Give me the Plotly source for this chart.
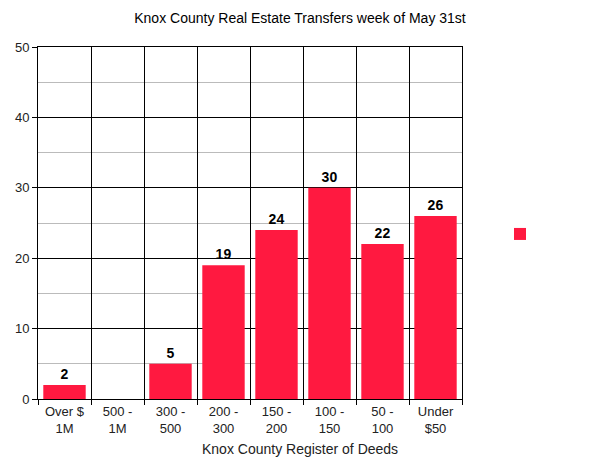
import plotly.graph_objects as go

categories = ["Over $<br>1M", "500 -<br>1M", "300 -<br>500", "200 -<br>300",
              "150 -<br>200", "100 -<br>150", "50 -<br>100", "Under<br>$50"]
values = [2, 0, 5, 19, 24, 30, 22, 26]
labels = [str(v) if v else "" for v in values]

title_text = "Knox County Real Estate Transfers week of May 31st"
xaxis_text = "Knox County Register of Deeds"

FONT = "Liberation Sans, Arial, sans-serif"
RED = "#ff1940"

# The page body has an 8px default margin, so the figure is drawn 8px in and down.
OFF = 8
W, H = 600 - OFF, 463 - OFF
PL, PR, PT, PB = 38 - OFF, 462 - OFF, 47 - OFF, 399 - OFF  # plot box in figure px
PW, PH = PR - PL, PB - PT

fig = go.Figure()
fig.add_trace(go.Bar(
    x=categories, y=values, name=" ",
    marker=dict(color=RED, line=dict(width=0)),
    text=labels, textposition="outside", cliponaxis=False,
    textfont=dict(family=FONT, size=14, color="#000000", weight="bold"),
    showlegend=True,
))

fig.update_layout(
    width=W, height=H,
    margin=dict(l=PL, r=W - PR, t=PT, b=H - PB, autoexpand=False),
    paper_bgcolor="white", plot_bgcolor="white",
    font=dict(family=FONT, size=13, color="#222222"),
    bargap=0.2,
    title=dict(text=title_text, x=(300 - OFF) / W, xanchor="center",
               y=1 - (18 - OFF) / H, yanchor="middle",
               font=dict(family=FONT, size=14, color="#000000")),
    xaxis=dict(
        type="category", tickson="boundaries", ticks="outside", ticklen=5,
        tickcolor="black", showgrid=True, gridcolor="black", gridwidth=1,
        showline=True, linecolor="black", linewidth=1, mirror=True,
        tickfont=dict(family=FONT, size=13, color="#222222"),
        fixedrange=True, automargin=False,
    ),
    yaxis=dict(
        range=[0, 50], dtick=10, ticks="outside", ticklen=5, tickcolor="black",
        showgrid=True, gridcolor="black", gridwidth=1,
        minor=dict(dtick=5, showgrid=True, gridcolor="#bbbbbb", gridwidth=1),
        showline=True, linecolor="black", linewidth=1, mirror=True,
        zeroline=False, automargin=False,
        tickfont=dict(family=FONT, size=13, color="#222222"),
    ),
    legend=dict(x=(500 - 38) / PW, xanchor="left", y=(399 - 234) / PH, yanchor="middle",
                font=dict(size=13), bgcolor="rgba(0,0,0,0)"),
    annotations=[dict(text=xaxis_text, xref="paper", yref="paper",
                      x=(300 - 38) / PW, y=-(449 - 399) / PH, xanchor="center", yanchor="middle",
                      showarrow=False, font=dict(family=FONT, size=14, color="#222222"))],
)

fig.write_html("out.html")
